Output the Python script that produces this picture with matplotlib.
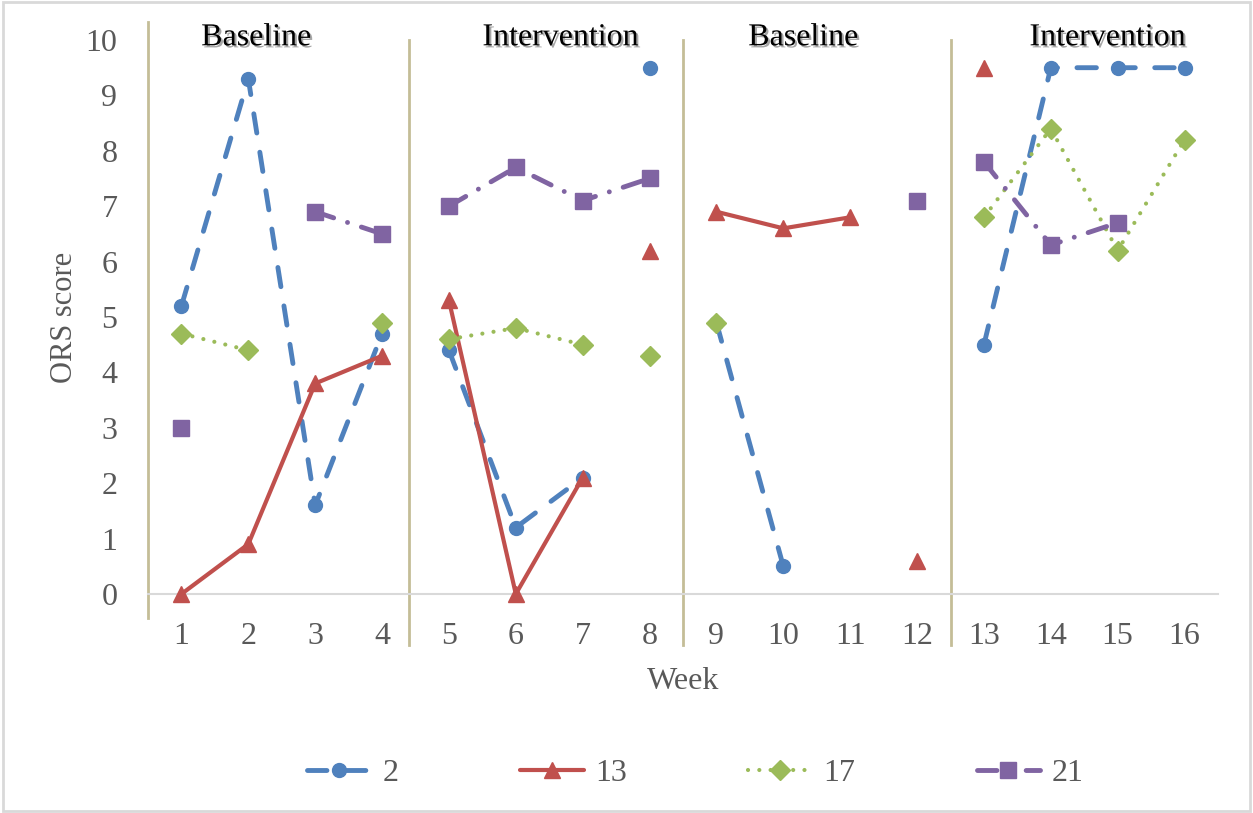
import numpy as np
import matplotlib
matplotlib.use("Agg")
import matplotlib.pyplot as plt
import matplotlib.patheffects as pe
from matplotlib.lines import Line2D
from matplotlib.patches import Rectangle

nan = np.nan
weeks = np.arange(1, 17)
week_labels = [str(w) for w in weeks]

# ORS scores per client (nan = no session that week)
ors_2 = [5.2, 9.3, 1.6, 4.7, 4.4, 1.2, 2.1, 9.5, 4.9, 0.5, nan, nan, 4.5, 9.5, 9.5, 9.5]
ors_13 = [0.0, 0.9, 3.8, 4.3, 5.3, 0.0, 2.1, 6.2, 6.9, 6.6, 6.8, 0.6, 9.5, nan, nan, nan]
ors_17 = [4.7, 4.4, nan, 4.9, 4.6, 4.8, 4.5, 4.3, 4.9, nan, nan, nan, 6.8, 8.4, 6.2, 8.2]
ors_21 = [3.0, nan, 6.9, 6.5, 7.0, 7.7, 7.1, 7.5, nan, nan, nan, 7.1, 7.8, 6.3, 6.7, nan]

# weeks where the line is not joined to the previous week
phase_starts = [5, 9, 13]
extra_breaks = {"2": [8], "13": [8, 12], "17": [8], "21": []}

phase_names = ["Baseline", "Intervention", "Baseline", "Intervention"]
phase_label_x = [2.12, 6.67, 10.3, 14.85]
phase_line_x = [4.4, 8.5, 12.5]

gray = "#595959"
tan = "#C4BD97"
plt.rcParams["font.family"] = ["Liberation Serif", "DejaVu Serif"]

series = [
    ("2", ors_2, dict(color="#4F81BD", lw=3.5, dashes=(4, 4), marker="o", ms=10)),
    ("13", ors_13, dict(color="#C0504D", lw=3.0, dashes=None, marker="^", ms=11)),
    ("17", ors_17, dict(color="#9BBB59", lw=3.0, dashes=(0.01, 2.7), marker="D", ms=10)),
    ("21", ors_21, dict(color="#8064A2", lw=3.5, dashes=(4, 3, 0.01, 3), marker="s", ms=11)),
]

fig = plt.figure(figsize=(12.53, 8.13), dpi=100)
ax = fig.add_axes([148 / 1253, 1 - 594 / 813, (1218 - 148) / 1253, (594 - 40) / 813])
ax.set_xlim(0.5, 16.5)
ax.set_ylim(0, 10)

# outer chart border
fig.patches.append(Rectangle((0.002, 0.003), 0.996, 0.994, transform=fig.transFigure,
                             fill=False, ec="#d9d9d9", lw=2))

# phase separators and left axis line
for px in phase_line_x:
    ax.plot([px, px], [-0.92, 10.0], color=tan, lw=2, clip_on=False, zorder=1)
ax.plot([0.5, 0.5], [-0.43, 10.32], color=tan, lw=2, clip_on=False, zorder=1)

handles = []
for name, vals, st in series:
    vals = np.array(vals, dtype=float)
    cuts = sorted(set(phase_starts + extra_breaks[name]))
    edges = [1] + cuts + [17]
    for a, b in zip(edges[:-1], edges[1:]):
        seg_w = weeks[a - 1:b - 1]
        seg_v = vals[a - 1:b - 1]
        ln, = ax.plot(seg_w, seg_v, color=st["color"], lw=st["lw"],
                      solid_capstyle="round", dash_capstyle="round", zorder=3,
                      clip_on=False)
        if st["dashes"]:
            ln.set_dashes(st["dashes"])
    ax.plot(weeks, vals, ls="none", marker=st["marker"], ms=st["ms"],
            color=st["color"], mec=st["color"], zorder=4, clip_on=False)
    h = Line2D([], [], color=st["color"], lw=st["lw"], marker=st["marker"],
               ms=st["ms"], mec=st["color"], dash_capstyle="round", solid_capstyle="round")
    if st["dashes"]:
        h.set_dashes(st["dashes"])
    handles.append(h)

for x, label in zip(phase_label_x, phase_names):
    ax.text(x, 10.04, label, ha="center", va="center", fontsize=23, color="black",
            path_effects=[pe.SimplePatchShadow(offset=(1.5, -1.5), alpha=0.35), pe.Normal()])

for s in ["top", "right", "left"]:
    ax.spines[s].set_visible(False)
ax.spines["bottom"].set_color("#d9d9d9")
ax.spines["bottom"].set_linewidth(1.5)

ax.set_xticks(weeks)
ax.set_xticklabels(week_labels)
ax.set_yticks(range(0, 11))
ax.tick_params(axis="both", length=0, labelsize=23, labelcolor=gray)
ax.tick_params(axis="x", pad=20)
ax.tick_params(axis="y", pad=22)

ax.set_xlabel("Week", fontsize=23, color=gray, labelpad=12)
ax.set_ylabel("ORS score", fontsize=22, color=gray, labelpad=5)

fig.legend(handles, ["2", "13", "17", "21"], loc="center", bbox_to_anchor=(0.555, 1 - 773 / 813),
           ncol=4, frameon=False, fontsize=23, labelcolor=gray, handlelength=2.0,
           handletextpad=0.35, columnspacing=3.8, numpoints=1)

fig.savefig("out.png", dpi=100)
